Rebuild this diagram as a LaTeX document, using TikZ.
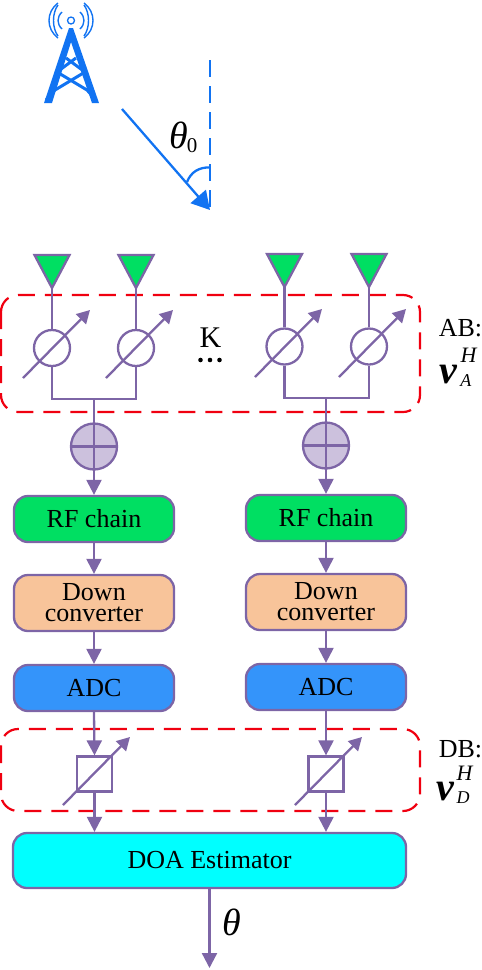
\documentclass[tikz,border=0pt]{standalone}
\usepackage{fontspec}
\setmainfont{Liberation Serif}
\usetikzlibrary{arrows.meta}
\definecolor{pur}{HTML}{7D65A6}
\definecolor{grn}{HTML}{00DF62}
\definecolor{org}{HTML}{F8C49A}
\definecolor{blu}{HTML}{3494FA}
\definecolor{cya}{HTML}{00FFFF}
\definecolor{sumf}{HTML}{CCC1DD}
\definecolor{twr}{HTML}{1173F2}
\definecolor{rdd}{HTML}{F00010}
\tikzset{
  pl/.style={draw=pur,line width=2.3pt},
  arr/.style={pl,-{Triangle[length=13pt,width=14pt]},shorten >=0pt},
  sarr/.style={pl,-{Triangle[length=15pt,width=15pt]}},
  block/.style={draw=pur,line width=2.3pt,rounded corners=14pt,inner sep=0pt,align=center,font=\fontsize{26}{21}\selectfont},
  ps/.style={circle,draw=pur,line width=2.3pt,minimum size=36pt,inner sep=0pt},
  summer/.style={circle,draw=pur,fill=sumf,line width=2.3pt,minimum size=46pt,inner sep=0pt},
  dps/.style={rectangle,draw=pur,line width=2.3pt,minimum size=35pt,inner sep=0pt},
  rbox/.style={draw=rdd,line width=2.2pt,dash pattern=on 17pt off 10pt,rounded corners=17pt},
  ant/.style={draw=pur,fill=grn,line width=2.3pt,line join=miter},
  twl/.style={draw=twr,line width=2.3pt},
  lbl/.style={inner sep=0pt,font=\fontsize{26}{28}\selectfont},
}
\newcommand{\mysym}[2]{\textit{\fontsize{#2}{#2}\selectfont #1}}
\newcommand{\mybsym}[2]{\textbf{\textit{\fontsize{#2}{#2}\selectfont #1}}}
\begin{document}
\begin{tikzpicture}[x=1pt,y=-1pt]
\useasboundingbox (0,0) rectangle (482,970);
% tower
\fill[twr] (69,28) -- (73,28) -- (99,103) -- (92,103) -- (71,42) -- (52,103) -- (44,103) -- cycle;
\draw[twr,line width=3pt] (66,58) -- (85,72) -- (55,90) -- (46,100);
\draw[twr,line width=3pt] (76,58) -- (57,72) -- (87,90) -- (96,100);
\draw[twl,line width=1.3pt] (71,20.5) circle (3.5);
\foreach \s in {1,-1}{
  \draw[twl,line width=1.4pt] ({71+\s*9},12) .. controls ({71+\s*14.3},17) and ({71+\s*14.3},24) .. ({71+\s*9},29);
  \draw[twl,line width=1.4pt] ({71+\s*13},5) .. controls ({71+\s*19},13) and ({71+\s*19},28) .. ({71+\s*13},36);
  \draw[twl,line width=1.4pt] ({71+\s*13},3) .. controls ({71+\s*25},12) and ({71+\s*25},29) .. ({71+\s*13},38);
}
% angle
\coordinate (tip) at (210,210);
\coordinate (src) at (122,109);
\coordinate (vtop) at (210,60);
\draw[twl,dash pattern=on 17pt off 9pt] (vtop) -- (tip);
\draw[twl,-{Triangle[length=18pt,width=20pt]}] (src) -- (tip);
\draw[twl] (210,167.5) .. controls (199,167) and (191,172) .. (187,182);
\node[inner sep=0pt,anchor=base] (th0) at (179,148) {\mysym{θ}{38}};
\node[inner sep=0pt,anchor=base] (th0s) at (192,152) {\fontsize{21}{21}\selectfont 0};
% red boxes
\draw[rbox] (1,295) rectangle (420,412);
\draw[rbox] (1,729) rectangle (420,811);
% antennas
\foreach \n/\x/\y in {a/52/255,b/136/255,c/284.5/254,d/369/254}{
  \draw[ant] (\x-17.5,\y) -- (\x+17.5,\y) -- (\x,\y+33) -- cycle;
  \coordinate (ant\n) at (\x,\y+33);
}
% phase shifters
\node[ps] (pa) at (52,348) {};
\node[ps] (pb) at (136,348) {};
\node[ps] (pc) at (284.5,346.5) {};
\node[ps] (pd) at (369,346.5) {};
\foreach \n/\x/\y in {a/23/378,b/106/378,c/255/377,d/339/377}{
  \coordinate (s\n) at (\x,\y);
  \coordinate (e\n) at (\x+67,\y-68);
  \draw[arr] (s\n) -- (e\n);
  \draw[pl] (ant\n) -- (p\n.north);
}
% summers
\node[summer] (sl) at (94,446.5) {};
\node[summer] (sr) at (326,445.5) {};
\coordinate (busl) at (94,399);
\coordinate (busr) at (326,398);
\draw[pl] (pa.south) |- (busl) -| (pb.south);
\draw[pl] (pc.south) |- (busr) -| (pd.south);
\draw[pl] (sl.west) -- (sl.east);
\draw[pl] (sr.west) -- (sr.east);
\draw[pl] (busl) -- (sl.north) -- (sl.south);
\draw[pl] (busr) -- (sr.north) -- (sr.south);
% blocks
\node[block,fill=grn,minimum width=160pt,minimum height=46pt] (rfl) at (94,519) {RF chain};
\node[block,fill=grn,minimum width=160pt,minimum height=46pt] (rfr) at (326,518) {RF chain};
\node[block,fill=org,minimum width=160pt,minimum height=56pt] (dcl) at (94,603) {Down\\converter};
\node[block,fill=org,minimum width=160pt,minimum height=56pt] (dcr) at (326,602) {Down\\converter};
\node[block,fill=blu,minimum width=160pt,minimum height=46pt] (adl) at (94,688) {ADC};
\node[block,fill=blu,minimum width=160pt,minimum height=46pt] (adr) at (326,687) {ADC};
\node[block,fill=cya,minimum width=393pt,minimum height=55pt] (doa) at (209.5,860.5) {DOA Estimator};
% digital shifters
\node[dps] (ql) at (94.5,774) {};
\node[dps] (qr) at (326,774) {};
\coordinate (ql1) at (63,805);
\coordinate (ql2) at (130,737);
\coordinate (qr1) at (295,805);
\coordinate (qr2) at (362,737);
\draw[arr] (ql1) -- (ql2);
\draw[arr] (qr1) -- (qr2);
% vertical arrows
\draw[sarr] (sl.south) -- (rfl.north);
\draw[sarr] (sr.south) -- (rfr.north);
\draw[sarr] (rfl.south) -- (dcl.north);
\draw[sarr] (rfr.south) -- (dcr.north);
\draw[sarr] (dcl.south) -- (adl.north);
\draw[sarr] (dcr.south) -- (adr.north);
\draw[sarr] (adl.south) -- (ql.north);
\draw[sarr] (adr.south) -- (qr.north);
\draw[sarr] (ql.south) -- (ql.south |- doa.north);
\draw[sarr] (qr.south) -- (qr.south |- doa.north);
\coordinate (out) at (209.5,968);
\draw[sarr] (doa.south) -- (out);
% labels
\node[inner sep=0pt,anchor=base,font=\fontsize{30}{30}\selectfont] (kk) at (210.5,347) {K};
\node[inner sep=0pt] (dots) at (210,360) {\tikz[baseline]{\fill (0,0) circle (2.3pt) (9.5pt,0) circle (2.3pt) (19pt,0) circle (2.3pt);}};
\node[lbl,anchor=base] (ab) at (460.5,336) {AB:};
\node[inner sep=0pt,anchor=base] (va) at (448.5,383) {\mybsym{v}{40}};
\node[inner sep=0pt,anchor=base] (vah) at (469,362) {\mysym{H}{22}};
\node[inner sep=0pt,anchor=base] (vaa) at (466,386) {\mysym{A}{18}};
\node[lbl,anchor=base] (db) at (460.5,757) {DB:};
\node[inner sep=0pt,anchor=base] (vd) at (446,800) {\mybsym{v}{40}};
\node[inner sep=0pt,anchor=base] (vdh) at (465,780) {\mysym{H}{22}};
\node[inner sep=0pt,anchor=base] (vdd) at (463,803) {\mysym{D}{18}};
\node[inner sep=0pt,anchor=base] (th) at (232,935) {\mysym{θ}{38}};
\end{tikzpicture}
\end{document}
